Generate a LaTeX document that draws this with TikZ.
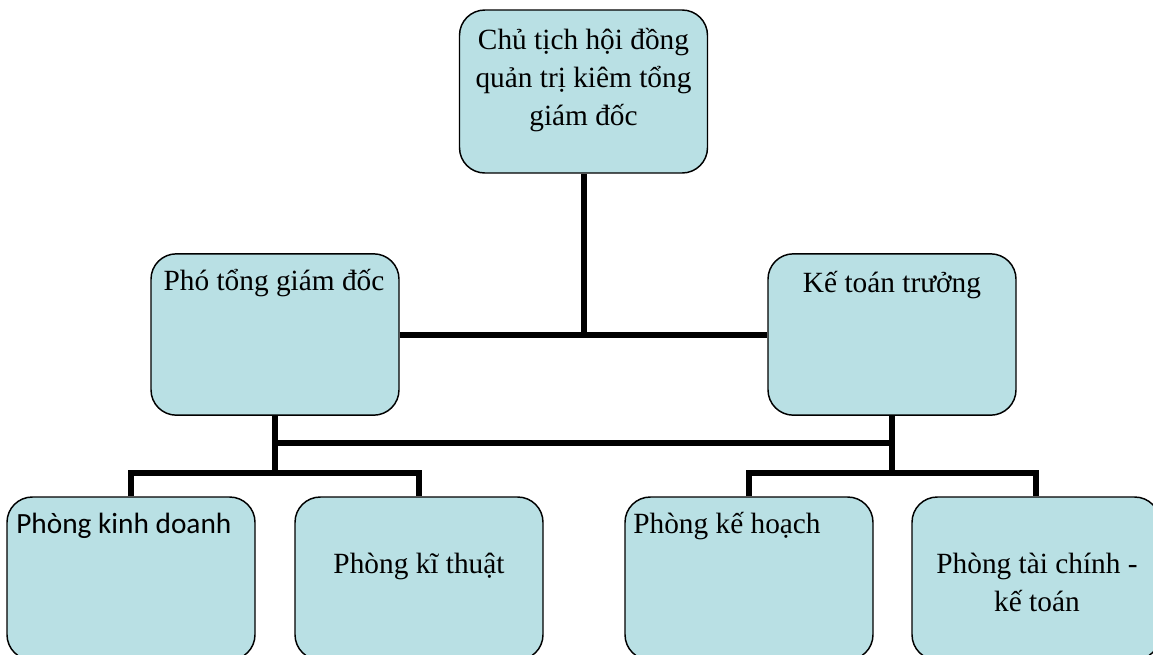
\documentclass[tikz,border=0pt]{standalone}
\usepackage{fontspec}
\setmainfont{Liberation Serif}
\newfontfamily\sansbody{Carlito}
\definecolor{boxfill}{RGB}{185,224,228}
\begin{document}
\begin{tikzpicture}[x=0.75pt,y=-0.75pt,
  box/.style={draw=black, line width=1.1pt, fill=boxfill, rounded corners=19pt,
    inner sep=0pt, minimum width=186pt, minimum height=121pt},
  tallbox/.style={box, minimum height=122.25pt},
  label text/.style={inner sep=0pt, font=\fontsize{22}{28.5}\selectfont},
  conn/.style={draw=black, line width=4.5pt}]
\useasboundingbox (0,0) rectangle (1153,654);

% boxes
\node[tallbox] (top)    at (583.5,91.5) {};
\node[box]     (pho)    at (275,334.5)  {};
\node[box]     (ketoan) at (892,334.5)  {};
\node[tallbox] (kd)     at (131,578.5)  {};
\node[tallbox] (kt)     at (419,578.5)  {};
\node[tallbox] (kh)     at (749,578.5)  {};
\node[tallbox] (tc)     at (1036,578.5) {};

% texts
\node[label text, anchor=base] (ttop) at (583.5,49)
  {\begin{tabular}[t]{@{}c@{}}Chủ tịch hội đồng\\ quản trị kiêm tổng\\ giám đốc\end{tabular}};
\node[label text, anchor=base] (tpho) at (274,290) {Phó tổng giám đốc};
\node[label text, anchor=base] (tketoan) at (892,292) {Kế toán trưởng};
\node[label text, anchor=base west, font=\sansbody\fontsize{22}{28.5}\selectfont] (tkd) at (16,533) {Phòng kinh doanh};
\node[label text, anchor=base] (tkt) at (419,573) {Phòng kĩ thuật};
\node[label text, anchor=base west] (tkh) at (633,533) {Phòng kế hoạch};
\node[label text, anchor=base] (ttc) at (1037,573)
  {\begin{tabular}[t]{@{}c@{}}Phòng tài chính -\\ kế toán\end{tabular}};

% junction points
\coordinate (topJ) at (583.5,334.5);
\coordinate (midL) at (275,443);
\coordinate (midR) at (892,443);
\coordinate (busL) at (275,473);
\coordinate (busR) at (892,473);

% connectors
\draw[conn] (top.south) -- (topJ);
\draw[conn] (pho.east) -- (ketoan.west);
\draw[conn] (pho.south) -- (busL);
\draw[conn] (ketoan.south) -- (busR);
\draw[conn] (midL) -- (midR);
\draw[conn] (kd.north) |- (busL) -| (kt.north);
\draw[conn] (kh.north) |- (busR) -| (tc.north);
\end{tikzpicture}
\end{document}
